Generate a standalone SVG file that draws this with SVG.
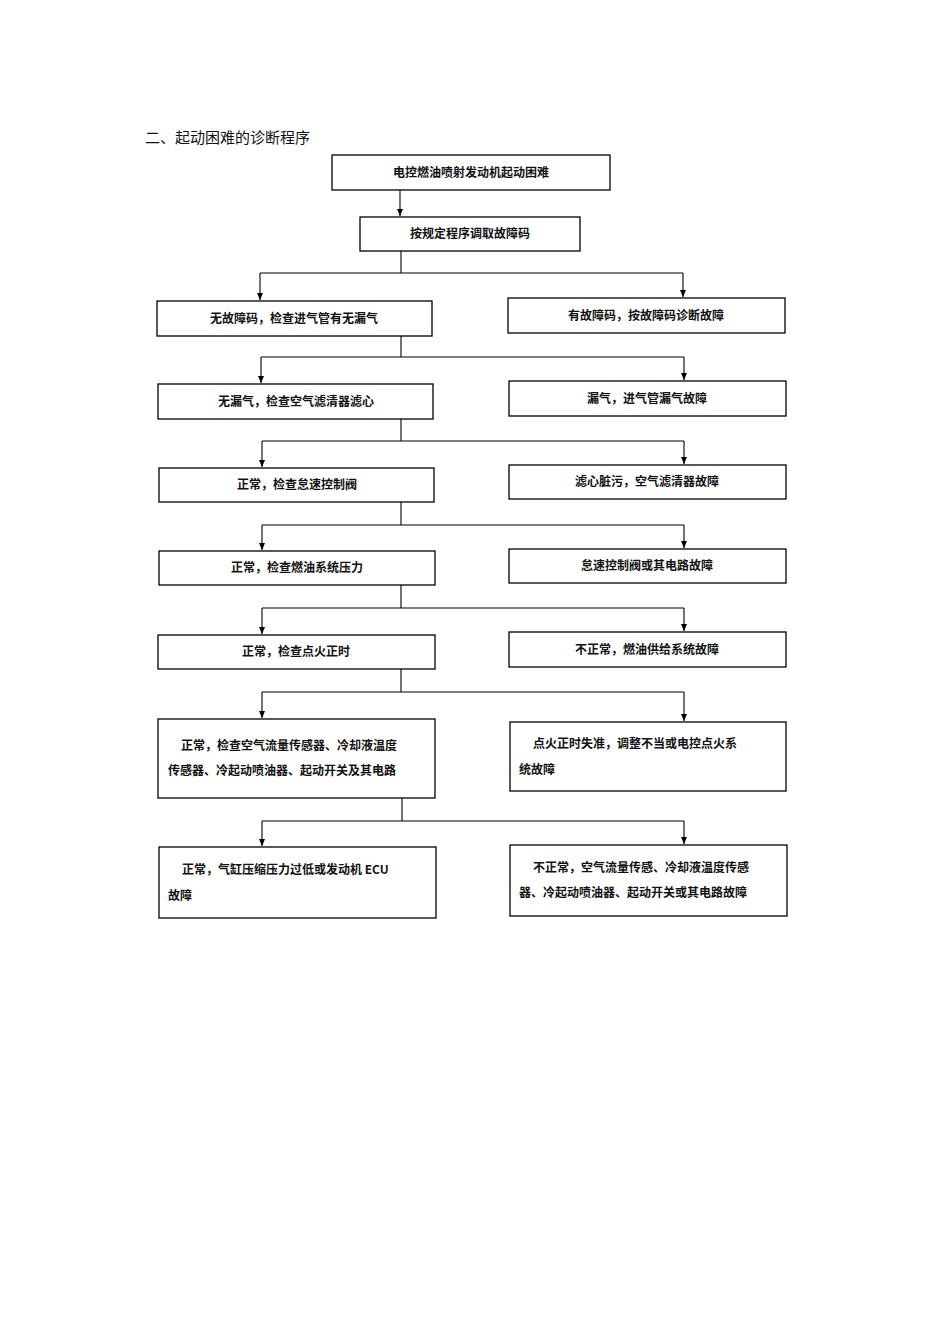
<svg xmlns="http://www.w3.org/2000/svg" width="950" height="1344" viewBox="0 0 950 1344">
<style>
rect{fill:#fff;stroke:#000;stroke-width:1.3}
text{font-family:"Noto Sans CJK SC","Liberation Sans",sans-serif;font-size:12px;font-weight:bold;fill:#111}
.c{text-anchor:middle}
.t{font-size:15px;font-weight:normal}
#connectors path{fill:none;stroke:#000;stroke-width:1.1;marker-end:url(#a)}
#connectors line{stroke:#000;stroke-width:1.1}
</style>
<defs><marker id="a" markerWidth="8" markerHeight="8" refX="7" refY="4" orient="auto" markerUnits="userSpaceOnUse"><path d="M0,1 L7,4 L0,7 Z" fill="#000"/></marker></defs>
<rect width="950" height="1344" style="fill:#fff;stroke:none"/>
<text class="t" x="145" y="143">二、起动困难的诊断程序</text>
<g id="connectors">
<path d="M400,190 V216"/>
<line x1="401" y1="251" x2="401" y2="273"/><line x1="260" y1="273" x2="683" y2="273"/>
<path d="M260,273 V300"/><path d="M683,273 V297"/>
<line x1="401" y1="336" x2="401" y2="357"/><line x1="261" y1="357" x2="684" y2="357"/>
<path d="M261,357 V383"/><path d="M684,357 V380"/>
<line x1="401" y1="419" x2="401" y2="441"/><line x1="262" y1="441" x2="684" y2="441"/>
<path d="M262,441 V467"/><path d="M684,441 V464"/>
<line x1="401" y1="502" x2="401" y2="525"/><line x1="262" y1="525" x2="684" y2="525"/>
<path d="M262,525 V550"/><path d="M684,525 V548"/>
<line x1="401" y1="585" x2="401" y2="608"/><line x1="262" y1="608" x2="684" y2="608"/>
<path d="M262,608 V634"/><path d="M684,608 V631"/>
<line x1="401" y1="669" x2="401" y2="692"/><line x1="262" y1="692" x2="684" y2="692"/>
<path d="M262,692 V718"/><path d="M684,692 V721"/>
<line x1="402" y1="798" x2="402" y2="821"/><line x1="262" y1="821" x2="684" y2="821"/>
<path d="M262,821 V846"/><path d="M684,821 V844"/>
</g>
<g id="n1"><rect x="332" y="155" width="278" height="35"/><text class="c" x="471" y="177">电控燃油喷射发动机起动困难</text></g>
<g id="n2"><rect x="360" y="217" width="220" height="34"/><text class="c" x="470" y="238">按规定程序调取故障码</text></g>
<g id="n3"><rect x="157" y="301" width="275" height="35"/><text class="c" x="294" y="323">无故障码，检查进气管有无漏气</text></g>
<g id="n4"><rect x="508" y="298" width="277" height="35"/><text class="c" x="646" y="320">有故障码，按故障码诊断故障</text></g>
<g id="n5"><rect x="158" y="384" width="275" height="35"/><text class="c" x="296" y="406">无漏气，检查空气滤清器滤心</text></g>
<g id="n6"><rect x="509" y="381" width="277" height="35"/><text class="c" x="647" y="403">漏气，进气管漏气故障</text></g>
<g id="n7"><rect x="159" y="468" width="275" height="34"/><text class="c" x="297" y="489">正常，检查怠速控制阀</text></g>
<g id="n8"><rect x="509" y="465" width="277" height="34"/><text class="c" x="647" y="486">滤心脏污，空气滤清器故障</text></g>
<g id="n9"><rect x="159" y="551" width="276" height="34"/><text class="c" x="297" y="572">正常，检查燃油系统压力</text></g>
<g id="n10"><rect x="509" y="549" width="277" height="34"/><text class="c" x="647" y="570">怠速控制阀或其电路故障</text></g>
<g id="n11"><rect x="158" y="635" width="277" height="34"/><text class="c" x="296" y="656">正常，检查点火正时</text></g>
<g id="n12"><rect x="509" y="632" width="277" height="35"/><text class="c" x="647" y="654">不正常，燃油供给系统故障</text></g>
<g id="n13"><rect x="158" y="719" width="277" height="79"/><text x="181" y="750">正常，检查空气流量传感器、冷却液温度</text><text x="168" y="775">传感器、冷起动喷油器、起动开关及其电路</text></g>
<g id="n14"><rect x="510" y="722" width="276" height="69"/><text x="533" y="748">点火正时失准，调整不当或电控点火系</text><text x="519" y="774">统故障</text></g>
<g id="n15"><rect x="159" y="847" width="277" height="71"/><text x="182" y="874">正常，气缸压缩压力过低或发动机 ECU</text><text x="168" y="900">故障</text></g>
<g id="n16"><rect x="510" y="845" width="277" height="71"/><text x="533" y="872">不正常，空气流量传感、冷却液温度传感</text><text x="519" y="897">器、冷起动喷油器、起动开关或其电路故障</text></g>
</svg>
